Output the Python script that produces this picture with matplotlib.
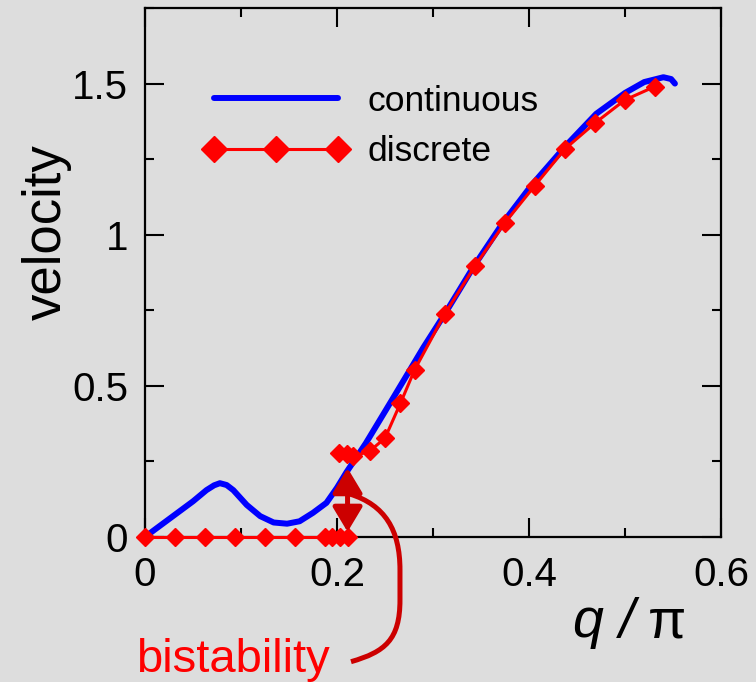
import matplotlib
matplotlib.use("Agg")
import matplotlib.pyplot as plt
from matplotlib.path import Path
from matplotlib.patches import PathPatch, FancyArrowPatch
from matplotlib.ticker import MultipleLocator

plt.rcParams['font.family'] = ['Liberation Sans', 'DejaVu Sans']

# continuous model: velocity vs wave number
q_cont = [0.0, 0.01, 0.03, 0.05, 0.064, 0.072, 0.078, 0.085, 0.092, 0.106,
          0.12, 0.134, 0.148, 0.161, 0.175, 0.189, 0.2, 0.21, 0.23, 0.257,
          0.29, 0.3125, 0.343, 0.373, 0.403, 0.44, 0.47, 0.5, 0.52, 0.54,
          0.548, 0.552]
v_cont = [0.0, 0.024, 0.071, 0.118, 0.155, 0.171, 0.178, 0.172, 0.155, 0.106,
          0.069, 0.048, 0.044, 0.052, 0.08, 0.113, 0.163, 0.215, 0.31, 0.452,
          0.627, 0.739, 0.898, 1.04, 1.165, 1.30, 1.40, 1.469, 1.505, 1.521,
          1.515, 1.50]

# discrete lattice: pinned branch (zero velocity)
q_pinned = [0.0, 0.03125, 0.0625, 0.09375, 0.125, 0.15625, 0.1875, 0.195,
            0.203, 0.211]
v_pinned = [0.0] * len(q_pinned)

# discrete lattice: sliding branch
q_slide = [0.202, 0.21, 0.217, 0.234, 0.25, 0.266, 0.281, 0.3125, 0.344,
           0.375, 0.406, 0.4375, 0.469, 0.5, 0.531]
v_slide = [0.277, 0.274, 0.267, 0.284, 0.327, 0.442, 0.554, 0.739, 0.898,
           1.04, 1.162, 1.284, 1.37, 1.446, 1.49]

# bistability marker
q_bistable = 0.211
v_arrow = [0.228, 0.017]

x_ticks = [0, 0.2, 0.4, 0.6]
x_tick_labels = ['0', '0.2', '0.4', '0.6']
y_ticks = [0, 0.5, 1.0, 1.5]
y_tick_labels = ['0', '0.5', '1', '1.5']

BG = '#dddddd'
BLUE = '#0000ff'
RED = '#ff0000'
DARKRED = '#cc0000'

fig = plt.figure(figsize=(7.56, 6.82), dpi=100, facecolor=BG)
ax = fig.add_axes([145 / 756, 1 - 537 / 682, 576 / 756, 529 / 682])
ax.set_facecolor(BG)

ax.plot(q_cont, v_cont, color=BLUE, lw=4.3, solid_capstyle='round',
        solid_joinstyle='round', label='continuous', zorder=3)
ax.plot(q_slide, v_slide, color=RED, lw=2.2, marker='D', ms=9,
        label='discrete', zorder=4, clip_on=False)
ax.plot(q_pinned, v_pinned, color=RED, lw=2.2, marker='D', ms=9,
        zorder=4, clip_on=False)

# double arrow marking the two coexisting states
arrow = FancyArrowPatch((q_bistable, v_arrow[0]), (q_bistable, v_arrow[1]),
                        arrowstyle='<|-|>,head_length=0.75,head_width=0.45',
                        mutation_scale=20, lw=3.6, color=DARKRED,
                        shrinkA=0, shrinkB=0, zorder=5)
ax.add_patch(arrow)

# bracket leading from the arrow to the caption
verts = [(0.2135, 0.142), (0.25, 0.106), (0.2656, 0.023), (0.2656, -0.109),
         (0.2656, -0.208),
         (0.2656, -0.340), (0.25, -0.380), (0.2146, -0.4125)]
codes = [Path.MOVETO, Path.CURVE4, Path.CURVE4, Path.CURVE4,
         Path.LINETO,
         Path.CURVE4, Path.CURVE4, Path.CURVE4]
ax.add_patch(PathPatch(Path(verts, codes), fill=False, ec=DARKRED, lw=3.6,
                       clip_on=False, zorder=5))

ax.set_xlim(0, 0.6)
ax.set_ylim(0, 1.75)
ax.set_xticks(x_ticks)
ax.set_xticklabels(x_tick_labels)
ax.set_yticks(y_ticks)
ax.set_yticklabels(y_tick_labels)
ax.xaxis.set_minor_locator(MultipleLocator(0.1))
ax.yaxis.set_minor_locator(MultipleLocator(0.25))
ax.tick_params(which='both', direction='in', top=True, right=True,
               width=1.5, colors='black')
ax.tick_params(which='major', length=13.5, labelsize=29)
ax.tick_params(axis='x', which='major', pad=14)
ax.tick_params(axis='y', which='major', pad=12)
ax.tick_params(which='minor', length=6.5)
for s in ax.spines.values():
    s.set_linewidth(1.6)

fig.text(47 / 756, 1 - 232 / 682, 'velocity', rotation=90, fontsize=38,
         ha='center', va='center')
fig.text(573 / 756, 1 - 637 / 682, 'q /', fontsize=40, style='italic',
         ha='left', va='baseline')
fig.text(648 / 756, 1 - 637 / 682, 'π', fontsize=40, ha='left',
         va='baseline')
fig.text(136 / 756, 1 - 672 / 682, 'bistability', fontsize=34, color=RED,
         ha='left', va='baseline')

ax.legend(loc='upper left', bbox_to_anchor=(0.076, 0.882), frameon=False,
          fontsize=25.5, handlelength=4.1, handletextpad=0.55,
          labelspacing=0.5, numpoints=3, markerscale=1.45, borderaxespad=0)

fig.savefig('out.png', dpi=100, facecolor=BG)
